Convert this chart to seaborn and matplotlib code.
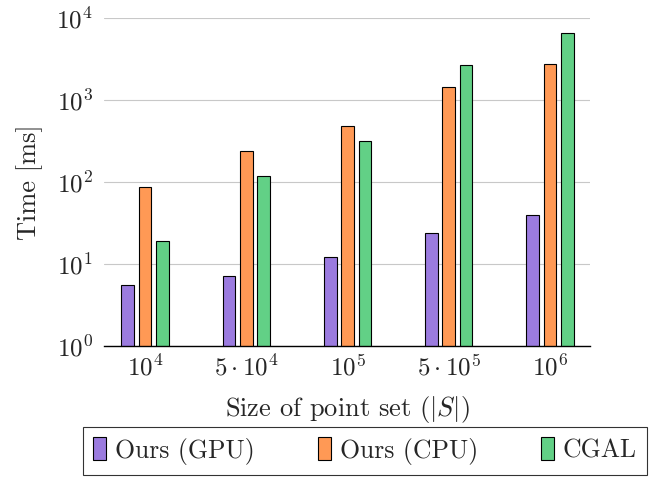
import numpy as np
import pandas as pd
import matplotlib
matplotlib.use('Agg')
import matplotlib.pyplot as plt
import seaborn as sns

# data
sizes = ['1e4', '5e4', '1e5', '5e5', '1e6']
size_labels = [r'$10^4$', r'$5\cdot10^4$', r'$10^5$', r'$5\cdot10^5$', r'$10^6$']
methods = ['Ours (GPU)', 'Ours (CPU)', 'CGAL']
gpu_ms = [5.6, 7.2, 12.1, 23.9, 39.6]
cpu_ms = [86, 241, 486, 1436, 2735]
cgal_ms = [19.1, 120, 314, 2660, 6575]
colors = ['#9b7bdf', '#ff9955', '#62d086']
yticks = [1, 10, 100, 1000, 10000]
ytick_labels = [r'$10^0$', r'$10^1$', r'$10^2$', r'$10^3$', r'$10^4$']

df = pd.DataFrame({
    'size': sizes * 3,
    'method': [methods[0]] * 5 + [methods[1]] * 5 + [methods[2]] * 5,
    'time': gpu_ms + cpu_ms + cgal_ms,
})

sns.set_style('white')
plt.rcParams['font.family'] = 'cmr10'
plt.rcParams['mathtext.fontset'] = 'cm'
plt.rcParams['axes.unicode_minus'] = False

fig = plt.figure(figsize=(6.53, 4.78), dpi=100)
ax = fig.add_axes([104 / 653, 1 - 346 / 478, 486 / 653, 328 / 478])

sns.barplot(data=df, x='size', y='time', hue='method', palette=colors,
            width=0.513, gap=0.27, edgecolor='black', linewidth=0.8,
            saturation=1, ax=ax, legend=True)
ax.set_yscale('log')

handles, labels = ax.get_legend_handles_labels()
ax.get_legend().remove()

ax.set_ylim(1, 1e4)
ax.set_xlim(-0.405, 4.395)
ax.set_yticks(yticks)
ax.set_yticklabels(ytick_labels, fontsize=18)
ax.set_xticks(range(5))
ax.set_xticklabels(size_labels, fontsize=18)
ax.yaxis.set_minor_locator(matplotlib.ticker.LogLocator(base=10, subs=np.arange(2, 10)))
ax.yaxis.set_minor_formatter(matplotlib.ticker.NullFormatter())
ax.tick_params(axis='y', which='major', direction='in', length=0, pad=8)
ax.tick_params(axis='y', which='minor', direction='in', length=6, color='#aaaaaa', width=0.8)
ax.tick_params(axis='x', length=0, pad=6)
ax.grid(axis='y', which='major', color='#c8c8c8', linewidth=0.8)
ax.set_axisbelow(True)
for s in ['top', 'right', 'left']:
    ax.spines[s].set_visible(False)
ax.spines['bottom'].set_color('black')
ax.spines['bottom'].set_linewidth(1.0)

ax.set_xlabel('Size of point set (' + r'$|S|$' + ')', fontsize=19, labelpad=10)
ax.set_ylabel('Time [ms]', fontsize=19, labelpad=10)

leg = fig.legend(handles, labels, loc='lower center', ncol=3,
                 bbox_to_anchor=(365 / 653, 3 / 478),
                 fontsize=18.5, frameon=True, fancybox=False, edgecolor='black',
                 handlelength=0.5, handleheight=1.0, handletextpad=0.35,
                 columnspacing=2.45, borderpad=0.4, borderaxespad=0)
leg.get_frame().set_linewidth(0.8)

fig.savefig('out.png', dpi=100)
